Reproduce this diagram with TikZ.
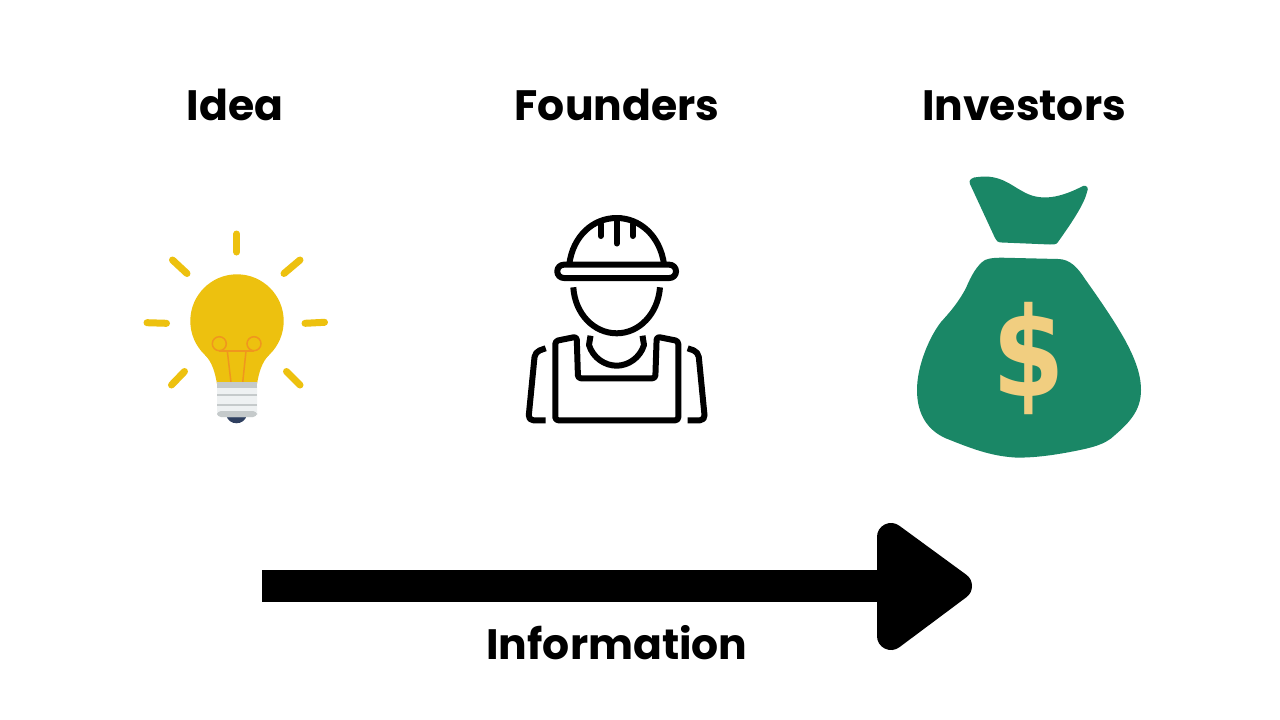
\documentclass[tikz,border=0pt]{standalone}
\usepackage{fontspec}
\setmainfont{Poppins}[BoldFont={Poppins Bold}]
\newfontfamily\dollarfont{DejaVu Sans Bold}
\usetikzlibrary{positioning}
\definecolor{bulbyellow}{HTML}{EDC10F}
\definecolor{filament}{HTML}{F0961E}
\definecolor{baggreen}{HTML}{1A8766}
\definecolor{dollaryellow}{HTML}{F1CE80}
\definecolor{screwlight}{HTML}{EEF1F2}
\definecolor{screwgrey}{HTML}{C5CACB}
\definecolor{screwcap}{HTML}{2F4060}
\tikzset{
  heading/.style={font=\bfseries\fontsize{42.5}{42.5}\selectfont, text=black, inner sep=0pt, anchor=base},
  ray/.style={draw=bulbyellow, line width=7pt, line cap=round},
  wire/.style={draw=filament, line width=1.5pt},
  outline/.style={draw=black, line width=6pt, line join=round},
  bigarrow/.style={draw=black, fill=black},
}
\begin{document}
\begin{tikzpicture}[x=1pt,y=-1pt]
    \useasboundingbox (0,0) rectangle (1280,720);
    \fill[white] (0,0) rectangle (1280,720);

    \node[heading] (idea) at (235,120) {Idea};
    \node[heading] (founders) at (617,120) {Founders};
    \node[heading] (investors) at (1024,120) {Investors};

    \draw[ray] (236.7,234) -- (236.7,252);
    \draw[ray] (172.5,260) -- (187,273.5);
    \draw[ray] (300,260) -- (284,273.5);
    \draw[ray] (147,322.7) -- (166.5,323.3);
    \draw[ray] (305,323.3) -- (324.5,322.3);
    \draw[ray] (184.5,371.5) -- (171.5,385);
    \draw[ray] (286.5,371.5) -- (300,385);

    \fill[bulbyellow] (237,321) circle (46.7);
    \fill[bulbyellow] (205,355) .. controls (212,362) and (215,372) .. (217,384) -- (257,384) .. controls (259,372) and (262,362) .. (269,355) -- cycle;
    \draw[wire] (219.3,343.7) circle (7);
    \draw[wire] (254,343.7) circle (7);
    \draw[wire] (219.3,351) -- (254,351);
    \draw[wire] (227.3,351) -- (231,382.5);
    \draw[wire] (246,351) -- (242.7,382.5);

    \fill[screwcap] (226,415) .. controls (229,426) and (244,426) .. (247,415) -- cycle;
    \fill[screwlight, rounded corners=4pt] (217,382) rectangle (257,417);
    \fill[screwgrey] (217,382) rectangle (257,388);
    \fill[screwgrey] (217,394) rectangle (257,396);
    \fill[screwgrey] (217,404) rectangle (257,406);
    \fill[screwgrey, rounded corners=4pt] (217,411) -- (257,411) -- (257,417) -- (217,417) -- cycle;

    \draw[outline] (569.3,264) .. controls (573,236) and (593,218) .. (616.7,218) .. controls (640,218) and (660,236) .. (664,264);
    \draw[outline, fill=white, rounded corners=6.5pt] (557.3,264.7) rectangle (676,278);
    \draw[outline, line cap=round] (600.7,224) -- (600.7,236);
    \draw[outline, line cap=round] (616.7,221) -- (616.7,243.5);
    \draw[outline, line cap=round] (632.7,224) -- (632.7,236);
    \draw[outline] (573.3,287.3) .. controls (575,314) and (594,333.3) .. (616.7,333.3) .. controls (639,333.3) and (658,314) .. (660,287.3);
    \draw[outline] (590.5,335.7) -- (589,345) .. controls (593,358) and (605,365.7) .. (616.7,365.7) .. controls (628,365.7) and (640,358) .. (644,345) -- (642.5,335.7);
    \draw[outline, rounded corners=3pt] (555.3,420.3) -- (555.3,341) -- (576.7,336.7) -- (578,378.3) -- (655.3,378.3) -- (656.7,336.7) -- (678.3,341) -- (678.3,420.3) -- cycle;
    \draw[outline, rounded corners=5pt] (545.7,348.3) -- (535,352) -- (528.3,420.3) -- (545.7,420.3);
    \draw[outline, rounded corners=5pt] (687.7,348.3) -- (698.3,352) -- (705,420.3) -- (687.7,420.3);

    \fill[baggreen] (970,184) .. controls (968,180) and (972,177) .. (978,177) .. controls (1000,174) and (1012,186) .. (1022,191) .. controls (1040,202) and (1060,198) .. (1083,186) .. controls (1087,185) and (1089,188) .. (1087,192) .. controls (1084,205) and (1070,225) .. (1058,242) .. controls (1056,245) and (1053,244.5) .. (1050,244.5) -- (1002,242.5) .. controls (998,242.5) and (996,241) .. (995,238) -- cycle;
    \fill[baggreen] (985,260) .. controls (990,258) and (995,257.7) .. (1002,257.7) -- (1058,259) .. controls (1070,259) and (1078,268) .. (1085,279) .. controls (1100,300) and (1115,322) .. (1125,340) .. controls (1133,355) and (1141,372) .. (1141,390) .. controls (1141,410) and (1130,422) .. (1115,435) .. controls (1105,445) and (1090,448) .. (1075,451) .. controls (1050,456) and (1030,458) .. (1015,457.5) .. controls (990,456) and (970,448) .. (945,438) .. controls (928,430) and (917,415) .. (917,390) .. controls (917,365) and (930,336) .. (941,322) .. controls (950,312) and (958,303) .. (966,288) .. controls (971,276) and (977,265) .. (985,260) -- cycle;
    \node[text=dollaryellow, inner sep=0pt, xscale=0.84, font=\dollarfont\fontsize{124}{124}\selectfont] (dollar) at (1029,359) {\$};

    \coordinate (flowstart) at (262,586);
    \coordinate (flowend) at (891,586);
    \draw[draw=black, line width=32pt] (flowstart) -- (flowend);
    \filldraw[bigarrow, line width=28pt, line join=round] (891,537) -- (958,586) -- (891,636) -- cycle;

    \node[heading] (information) at (617,659) {Information};
\end{tikzpicture}
\end{document}
